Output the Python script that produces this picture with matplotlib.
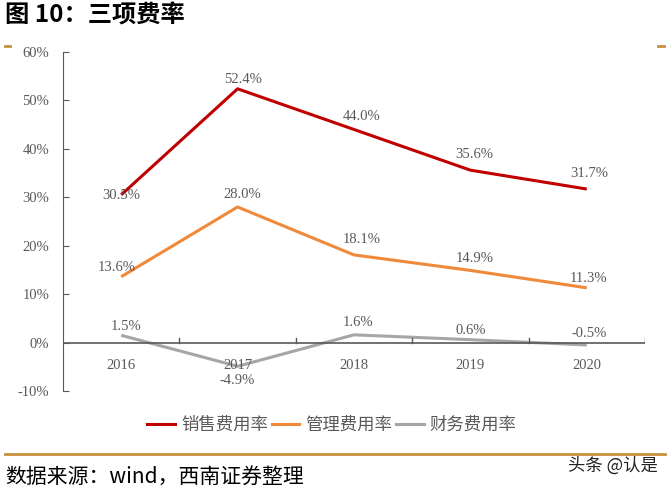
import numpy as np
import matplotlib
matplotlib.use("Agg")
from matplotlib import pyplot as plt
from matplotlib.lines import Line2D

plt.rcParams['font.family'] = ['Noto Sans CJK SC', 'DejaVu Sans']

years = ['2016', '2017', '2018', '2019', '2020']
sales = [30.5, 52.4, 44.0, 35.6, 31.7]
admin = [13.6, 28.0, 18.1, 14.9, 11.3]
fin = [1.5, -4.9, 1.6, 0.6, -0.5]
yticks = [-10, 0, 10, 20, 30, 40, 50, 60]

# label offsets in pixels (dx, dy), up is positive
sales_off = [(0, -1), (5, 9), (8, 13), (4, 16), (2, 16)]
admin_off = [(-4, 9), (5, 12), (8, 15), (4, 12), (2, 9)]
fin_off = [(5, 9), (0, -14), (4, 12), (0, 9), (2, 11)]

red = '#C00000'
orange = '#F08A3A'
grey = '#A6A6A6'
txt = '#595959'
gold = '#C8913E'
serif = ['Liberation Serif', 'DejaVu Serif']

fig = plt.figure(figsize=(6.71, 4.90), dpi=100)
ax = fig.add_axes([63/671, 1-391/490, 582/671, 339/490])

x = np.arange(len(years))
for vals, col, offs in [(sales, red, sales_off), (admin, orange, admin_off), (fin, grey, fin_off)]:
    ax.plot(x, vals, color=col, lw=2.2, solid_capstyle='butt')
    for xi, v, (dx, dy) in zip(x, vals, offs):
        ax.annotate('%.1f%%' % v, (xi, v), xytext=(dx, dy), textcoords='offset pixels',
                    ha='center', va='center', fontsize=10.5, color=txt, family=serif)

ax.set_xlim(-0.5, 4.5)
ax.set_ylim(-10, 60)
ax.set_yticks(yticks)
ax.set_yticklabels(['%d%%' % t for t in yticks], family=serif, fontsize=10.5, color=txt)
ax.tick_params(axis='y', direction='in', length=4, color='#595959', pad=10)

# x axis at zero
ax.spines['bottom'].set_visible(False)
ax.spines['top'].set_visible(False)
ax.spines['right'].set_visible(False)
ax.spines['left'].set_color('#595959')
ax.axhline(0, color='#595959', lw=1.2)
for b in np.arange(0.5, 5, 1.0):
    ax.plot([b, b], [0, 1.0], color='#595959', lw=1.0)
ax.set_xticks([])
for xi, y in zip(x, years):
    ax.text(xi, -4.8, y, ha='center', va='center', fontsize=10.5, color=txt, family=serif)

handles = [Line2D([], [], color=c, lw=2.2) for c in (red, orange, grey)]
fig.legend(handles, ['销售费用率', '管理费用率', '财务费用率'], loc='center',
           bbox_to_anchor=(332/671, 1-425/490), ncol=3, frameon=False,
           fontsize=12.5, labelcolor=txt, handlelength=1.6, handletextpad=0.35,
           columnspacing=0.2)

fig.text(5/671, 1-16/490, '图 10：三项费率', fontsize=17.5, fontweight='bold', va='center', ha='left')
fig.add_artist(Line2D([5/671, 10/671], [1-46/490, 1-46/490], color=gold, lw=2))
fig.add_artist(Line2D([658/671, 664/671], [1-46/490, 1-46/490], color=gold, lw=2))
fig.add_artist(Line2D([5/671, 665/671], [1-454/490, 1-454/490], color=gold, lw=2))
fig.text(5/671, 1-477/490, '数据来源：wind，西南证券整理', fontsize=15, style='italic', va='center', ha='left')
fig.text(658/671, 1-466/490, '头条 @认是', fontsize=12.5, va='center', ha='right', color='#222222')

fig.savefig('out.png', dpi=100)
